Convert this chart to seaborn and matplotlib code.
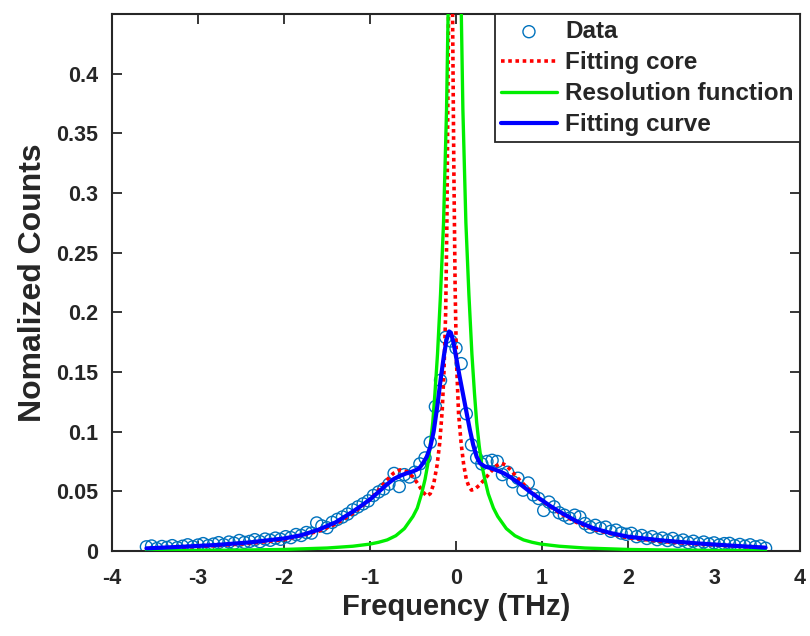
import numpy as np
import pandas as pd
import matplotlib
matplotlib.use("Agg")
import matplotlib.pyplot as plt
import seaborn as sns

# ---------------- data ----------------
freq = [-3.60, -3.54, -3.48, -3.42, -3.36, -3.30, -3.24, -3.18, -3.12, -3.06,
        -3.00, -2.94, -2.88, -2.82, -2.76, -2.70, -2.64, -2.58, -2.52, -2.46,
        -2.40, -2.34, -2.28, -2.22, -2.16, -2.10, -2.04, -1.98, -1.92, -1.86,
        -1.80, -1.74, -1.68, -1.62, -1.56, -1.50, -1.44, -1.38, -1.32, -1.26,
        -1.20, -1.14, -1.08, -1.02, -0.96, -0.90, -0.84, -0.78, -0.72, -0.66,
        -0.60, -0.54, -0.48, -0.42, -0.36, -0.30, -0.24, -0.18, -0.12, -0.06,
        0.00, 0.06, 0.12, 0.18, 0.24, 0.30, 0.36, 0.42, 0.48, 0.54,
        0.60, 0.66, 0.72, 0.78, 0.84, 0.90, 0.96, 1.02, 1.08, 1.14,
        1.20, 1.26, 1.32, 1.38, 1.44, 1.50, 1.56, 1.62, 1.68, 1.74,
        1.80, 1.86, 1.92, 1.98, 2.04, 2.10, 2.16, 2.22, 2.28, 2.34,
        2.40, 2.46, 2.52, 2.58, 2.64, 2.70, 2.76, 2.82, 2.88, 2.94,
        3.00, 3.06, 3.12, 3.18, 3.24, 3.30, 3.36, 3.42, 3.48, 3.54, 3.60]
counts = [0.0035, 0.0042, 0.0020, 0.0038, 0.0030, 0.0045, 0.0028, 0.0040, 0.0052, 0.0035,
          0.0050, 0.0062, 0.0045, 0.0058, 0.0070, 0.0052, 0.0075, 0.0065, 0.0088, 0.0072,
          0.0080, 0.0095, 0.0078, 0.0100, 0.0090, 0.0108, 0.0098, 0.0120, 0.0112, 0.0138,
          0.0130, 0.0155, 0.0150, 0.0235, 0.0210, 0.0195, 0.0240, 0.0265, 0.0285, 0.0310,
          0.0345, 0.0370, 0.0395, 0.0420, 0.0465, 0.0495, 0.0520, 0.0560, 0.0650, 0.0540,
          0.0640, 0.0620, 0.0660, 0.0730, 0.0780, 0.0910, 0.1210, 0.1430, 0.1790, 0.1760,
          0.1700, 0.1570, 0.1150, 0.0890, 0.0780, 0.0730, 0.0750, 0.0760, 0.0750, 0.0640,
          0.0660, 0.0580, 0.0610, 0.0510, 0.0570, 0.0470, 0.0440, 0.0340, 0.0410, 0.0370,
          0.0320, 0.0300, 0.0275, 0.0300, 0.0285, 0.0230, 0.0200, 0.0215, 0.0190, 0.0200,
          0.0165, 0.0175, 0.0150, 0.0140, 0.0148, 0.0120, 0.0130, 0.0105, 0.0120, 0.0095,
          0.0108, 0.0088, 0.0105, 0.0080, 0.0092, 0.0070, 0.0082, 0.0062, 0.0075, 0.0058,
          0.0068, 0.0050, 0.0062, 0.0064, 0.0045, 0.0055, 0.0040, 0.0052, 0.0035, 0.0042, 0.0023]

core_x = [-3.60, -3.20, -2.80, -2.40, -2.00, -1.60, -1.40, -1.20, -1.00, -0.90,
          -0.81, -0.73, -0.65, -0.57, -0.50, -0.44, -0.39, -0.34, -0.30, -0.26,
          -0.22, -0.19, -0.16, -0.14, -0.12, -0.105, -0.09, -0.075, -0.065, -0.055,
          -0.04, -0.025, -0.01, 0.005, 0.03, 0.06, 0.09, 0.12, 0.15, 0.18,
          0.22, 0.27, 0.32, 0.40, 0.47, 0.53, 0.58, 0.64, 0.72, 0.80,
          0.90, 1.00, 1.20, 1.40, 1.60, 2.00, 2.40, 2.80, 3.20, 3.60]
core_y = [0.0018, 0.0030, 0.0044, 0.0064, 0.0095, 0.0165, 0.0225, 0.0315, 0.0430, 0.0510,
          0.0590, 0.0650, 0.0680, 0.0665, 0.0620, 0.0560, 0.0500, 0.0460, 0.0480, 0.0560,
          0.0720, 0.0900, 0.1180, 0.1500, 0.2000, 0.2800, 0.4200, 0.5600, 0.6000, 0.5600,
          0.4500, 0.3200, 0.2200, 0.1600, 0.1150, 0.0900, 0.0720, 0.0600, 0.0540, 0.0510,
          0.0520, 0.0550, 0.0590, 0.0660, 0.0715, 0.0735, 0.0720, 0.0675, 0.0610, 0.0550,
          0.0480, 0.0420, 0.0320, 0.0240, 0.0180, 0.0110, 0.0080, 0.0058, 0.0042, 0.0025]

res_x = [-3.60, -3.00, -2.50, -2.00, -1.50, -1.20, -1.00, -0.90, -0.80, -0.70,
         -0.60, -0.50, -0.45, -0.40, -0.36, -0.33, -0.30, -0.27, -0.245, -0.215,
         -0.18, -0.145, -0.11, -0.085, -0.05, -0.015, 0.02, 0.055, 0.08, 0.115,
         0.15, 0.185, 0.215, 0.24, 0.27, 0.30, 0.335, 0.375, 0.435, 0.485,
         0.585, 0.685, 0.785, 0.885, 0.985, 1.20, 1.50, 2.00, 2.50, 3.00, 3.60]
res_y = [0.0003, 0.0005, 0.0008, 0.0013, 0.0025, 0.0040, 0.0058, 0.0073, 0.0093, 0.0128,
         0.0188, 0.0290, 0.0360, 0.0480, 0.0600, 0.0720, 0.0880, 0.1080, 0.1320, 0.1650,
         0.2150, 0.2750, 0.3700, 0.4800, 0.7000, 0.9500, 0.7000, 0.4800, 0.3700, 0.2750,
         0.2150, 0.1650, 0.1320, 0.1080, 0.0880, 0.0720, 0.0600, 0.0480, 0.0360, 0.0290,
         0.0188, 0.0128, 0.0093, 0.0073, 0.0058, 0.0040, 0.0025, 0.0013, 0.0008, 0.0005, 0.0003]

fit_x = [-3.60, -3.20, -2.80, -2.40, -2.00, -1.80, -1.60, -1.40, -1.20, -1.10,
         -1.00, -0.90, -0.80, -0.72, -0.65, -0.58, -0.52, -0.46, -0.42, -0.38,
         -0.34, -0.30, -0.26, -0.22, -0.18, -0.14, -0.11, -0.08, -0.06, -0.03,
         0.00, 0.04, 0.08, 0.12, 0.16, 0.20, 0.24, 0.28, 0.33, 0.40,
         0.48, 0.56, 0.64, 0.72, 0.80, 0.90, 1.00, 1.10, 1.20, 1.40,
         1.60, 1.80, 2.00, 2.40, 2.80, 3.20, 3.60]
fit_y = [0.0022, 0.0035, 0.0050, 0.0072, 0.0105, 0.0132, 0.0178, 0.0240, 0.0330, 0.0380,
         0.0432, 0.0495, 0.0560, 0.0605, 0.0630, 0.0650, 0.0662, 0.0680, 0.0700, 0.0740,
         0.0790, 0.0870, 0.1000, 0.1200, 0.1430, 0.1640, 0.1770, 0.1840, 0.1830, 0.1750,
         0.1630, 0.1470, 0.1320, 0.1170, 0.1020, 0.0890, 0.0790, 0.0735, 0.0710, 0.0695,
         0.0675, 0.0650, 0.0615, 0.0575, 0.0530, 0.0475, 0.0425, 0.0375, 0.0330, 0.0250,
         0.0190, 0.0150, 0.0120, 0.0088, 0.0064, 0.0045, 0.0028]

labels = ["Data", "Fitting core", "Resolution function", "Fitting curve"]
x_ticks = [-4, -3, -2, -1, 0, 1, 2, 3, 4]
y_ticks = [0, 0.05, 0.1, 0.15, 0.2, 0.25, 0.3, 0.35, 0.4]
y_tick_labels = ["0", "0.05", "0.1", "0.15", "0.2", "0.25", "0.3", "0.35", "0.4"]

# ---------------- style ----------------
sns.set_theme(style="ticks")
plt.rcParams["font.family"] = ["Liberation Sans", "DejaVu Sans"]
plt.rcParams["font.weight"] = "bold"
plt.rcParams["axes.labelweight"] = "bold"

fig = plt.figure(figsize=(8.10, 6.36), dpi=100)
ax = fig.add_axes([112 / 810, 1 - 551 / 636, (800 - 112) / 810, (551 - 14) / 636])

df_data = pd.DataFrame({"f": freq, "v": counts})
df_core = pd.DataFrame({"f": core_x, "v": core_y})
df_res = pd.DataFrame({"f": res_x, "v": res_y})
df_fit = pd.DataFrame({"f": fit_x, "v": fit_y})

sns.scatterplot(data=df_data, x="f", y="v", ax=ax, marker="o", s=75,
                facecolors="none", edgecolor="#0072BD", linewidth=1.0,
                label=labels[0], zorder=2)
sns.lineplot(data=df_core, x="f", y="v", ax=ax, color="#ff0000", linewidth=2.6,
             linestyle=(0, (1, 1)), sort=False, estimator=None,
             label=labels[1], zorder=3)
sns.lineplot(data=df_res, x="f", y="v", ax=ax, color="#00ee00", linewidth=2.4,
             sort=False, estimator=None, label=labels[2], zorder=3)
sns.lineplot(data=df_fit, x="f", y="v", ax=ax, color="#0000ff", linewidth=3.0,
             sort=False, estimator=None, label=labels[3], zorder=4)

ax.set_xlim(-4, 4)
ax.set_ylim(0, 0.45)
ax.set_xticks(x_ticks)
ax.set_xticklabels([str(t) for t in x_ticks])
ax.set_yticks(y_ticks)
ax.set_yticklabels(y_tick_labels)
ax.tick_params(axis="both", direction="in", length=7, width=1.3, color="#262626",
               labelsize=15.5, top=True, right=True, labelcolor="#262626")
ax.tick_params(axis="x", pad=12)
ax.tick_params(axis="y", pad=10)
for lab in ax.get_xticklabels() + ax.get_yticklabels():
    lab.set_fontweight("bold")
for sp in ax.spines.values():
    sp.set_visible(True)
    sp.set_linewidth(1.5)
    sp.set_color("#262626")

ax.set_xlabel("Frequency (THz)", fontsize=21, fontweight="bold", color="#262626", labelpad=3)
ax.set_ylabel("Nomalized Counts", fontsize=23, fontweight="bold", color="#262626", labelpad=6)

leg = ax.legend(loc="upper right", bbox_to_anchor=(1.0, 1.0), frameon=True,
                fancybox=False, edgecolor="#262626", fontsize=17.5,
                handlelength=2.3, handletextpad=0.35, borderpad=0.25,
                labelspacing=0.33, borderaxespad=0.0, framealpha=1)
leg.get_frame().set_linewidth(1.3)
for t in leg.get_texts():
    t.set_fontweight("bold")

fig.savefig("out.png", dpi=100)
